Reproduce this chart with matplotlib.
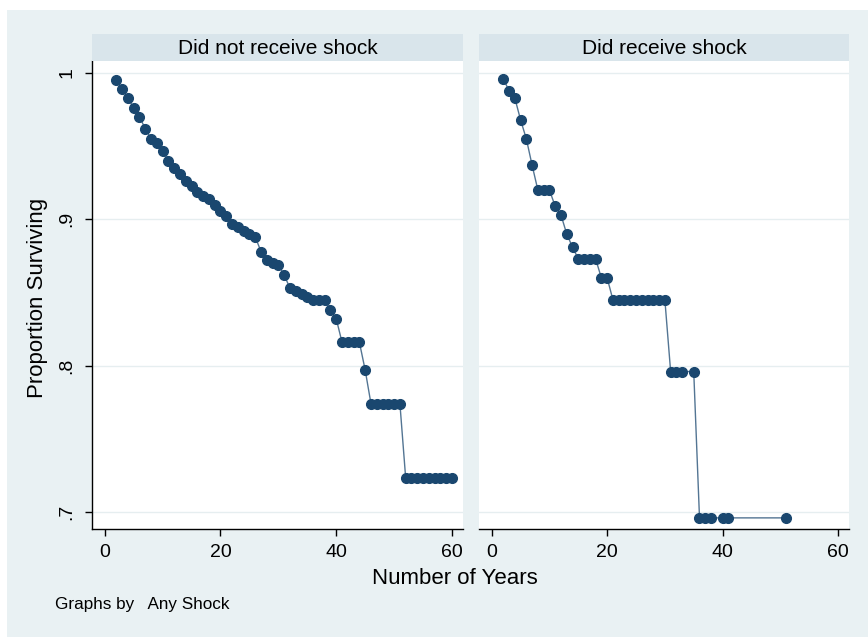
import matplotlib
matplotlib.use("Agg")
import matplotlib.pyplot as plt
from matplotlib.patches import Rectangle

plt.rcParams['font.family'] = ['Liberation Sans', 'DejaVu Sans']

# panel titles
panels = ["Did not receive shock", "Did receive shock"]

# no shock: survival at each year
years_no = list(range(2, 61))
surv_no = [0.995, 0.989, 0.983, 0.976, 0.970, 0.962, 0.955, 0.952, 0.947, 0.940,
           0.935, 0.931, 0.926, 0.923, 0.919, 0.916, 0.914, 0.910, 0.906, 0.902,
           0.897, 0.895, 0.892, 0.890, 0.888, 0.878, 0.872, 0.870, 0.869, 0.862,
           0.853, 0.851, 0.849, 0.847, 0.845, 0.845, 0.845, 0.838, 0.832,
           0.816, 0.816, 0.816, 0.816, 0.797,
           0.774, 0.774, 0.774, 0.774, 0.774, 0.774,
           0.723, 0.723, 0.723, 0.723, 0.723, 0.723, 0.723, 0.723, 0.723]

# shock
years_yes = [2, 3, 4, 5, 6, 7, 8, 9, 10, 11, 12, 13, 14, 15, 16, 17, 18, 19, 20,
             21, 22, 23, 24, 25, 26, 27, 28, 29, 30, 31, 32, 33, 35,
             36, 37, 38, 40, 41, 51]
surv_yes = [0.996, 0.988, 0.983, 0.968, 0.955, 0.937, 0.920, 0.920, 0.920, 0.909,
            0.903, 0.890, 0.881, 0.873, 0.873, 0.873, 0.873, 0.860, 0.860,
            0.845, 0.845, 0.845, 0.845, 0.845, 0.845, 0.845, 0.845, 0.845, 0.845,
            0.796, 0.796, 0.796, 0.796,
            0.696, 0.696, 0.696, 0.696, 0.696, 0.696]

xticks = [0, 20, 40, 60]
yticks = [1.0, 0.9, 0.8, 0.7]
ytick_labels = ["1", ".9", ".8", ".7"]

bg = "#e9f1f3"
strip_col = "#d9e5eb"
grid_col = "#e6eef0"
navy = "#1a476f"

W, H = 868, 637
fig = plt.figure(figsize=(W / 100, H / 100), dpi=100)
fig.patch.set_facecolor("white")
fig.patches.append(Rectangle((7 / W, 0), 1, 1 - 10 / H, transform=fig.transFigure,
                             facecolor=bg, edgecolor="none", zorder=-10))

def fx(px):
    return px / W

def fy(py):
    return 1 - py / H

lefts = [92, 479]
rights = [463, 849]
top, bottom, strip_top = 61, 529, 34
data = [(years_no, surv_no), (years_yes, surv_yes)]

for i in range(2):
    ax = fig.add_axes([fx(lefts[i]), fy(bottom), fx(rights[i] - lefts[i]), (bottom - top) / H])
    ax.set_facecolor("white")
    xs, ys = data[i]
    ax.plot(xs, ys, color=navy, lw=1.0, alpha=0.75, zorder=2)
    ax.plot(xs, ys, ls="none", marker="o", ms=7, color=navy, mec=navy, zorder=3)
    ax.set_xlim(-2.2, 61.9)
    ax.set_ylim(0.6884, 1.0082)
    ax.set_yticks(yticks)
    ax.set_xticks(xticks)
    ax.grid(axis="y", color=grid_col, lw=1.0)
    ax.set_axisbelow(True)
    for s in ["top", "right"]:
        ax.spines[s].set_visible(False)
    ax.spines["bottom"].set_linewidth(1.0)
    ax.tick_params(axis="x", direction="out", length=5, width=1, pad=6, labelsize=14)
    if i == 0:
        ax.set_yticklabels(ytick_labels, rotation=90, va="center", fontsize=14)
        ax.tick_params(axis="y", direction="out", length=5, width=1, pad=7)
        ax.spines["left"].set_linewidth(1.0)
    else:
        ax.spines["left"].set_visible(False)
        ax.tick_params(axis="y", length=0, labelleft=False)

    st = fig.add_axes([fx(lefts[i]), fy(top), fx(rights[i] - lefts[i]), (top - strip_top) / H])
    st.set_facecolor(strip_col)
    st.set_xticks([])
    st.set_yticks([])
    for s in st.spines.values():
        s.set_visible(False)
    st.text(0.5, 0.47, panels[i], ha="center", va="center", fontsize=15, transform=st.transAxes)

fig.text(fx(38), fy(298), "Proportion Surviving", rotation=90, ha="center", va="center", fontsize=16)
fig.text(fx(455), fy(579), "Number of Years", ha="center", va="center", fontsize=16)
fig.text(fx(55), fy(605), "Graphs by   Any Shock", ha="left", va="center", fontsize=12.3)

fig.savefig("out.png", dpi=100, facecolor=fig.get_facecolor())
